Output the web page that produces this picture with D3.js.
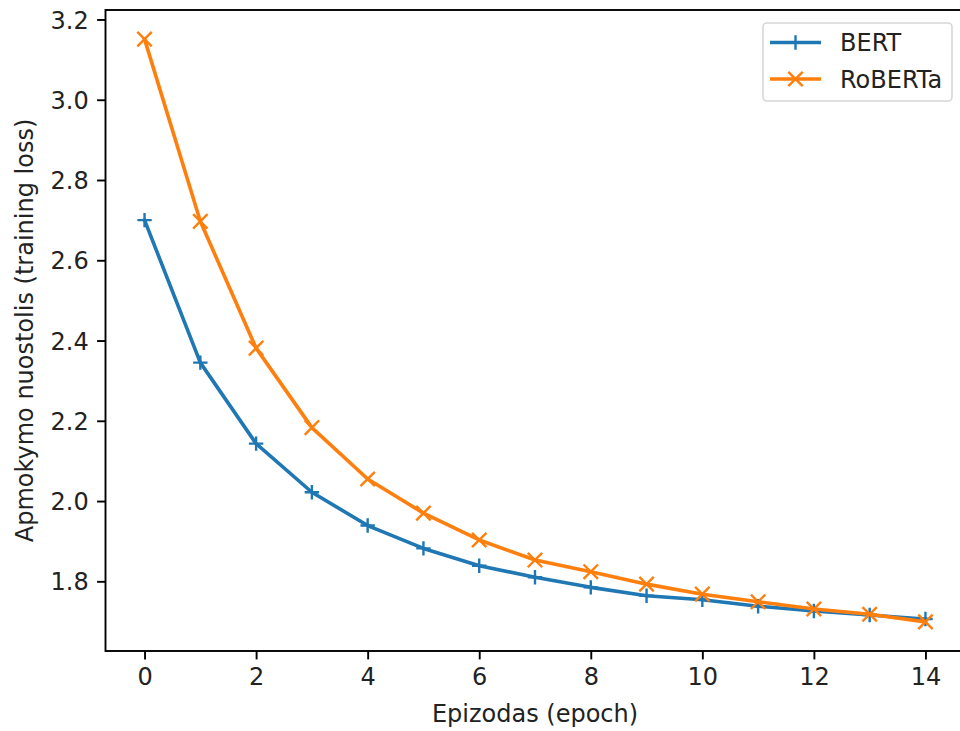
<!DOCTYPE html>
<html>
<head>
<meta charset="utf-8">
<script src="https://cdn.jsdelivr.net/npm/d3@7"></script>
<style>
  html, body { margin: 0; padding: 0; background: #fff; }
  svg { display: block; font-family: "DejaVu Sans", sans-serif; }
</style>
</head>
<body>
<svg id="chart" width="960" height="731"></svg>
<script>
// Training loss per epoch for two models
const epochs = [0, 1, 2, 3, 4, 5, 6, 7, 8, 9, 10, 11, 12, 13, 14];
const bertLoss = [2.700, 2.345, 2.143, 2.022, 1.939, 1.882, 1.839, 1.810, 1.785, 1.764, 1.754, 1.738, 1.726, 1.716, 1.706];
const robertaLoss = [3.151, 2.697, 2.381, 2.183, 2.055, 1.970, 1.903, 1.853, 1.824, 1.793, 1.768, 1.749, 1.731, 1.718, 1.699];
const seriesNames = ["BERT", "RoBERTa"];
const xTickValues = [0, 2, 4, 6, 8, 10, 12, 14];
const yTickValues = [1.8, 2.0, 2.2, 2.4, 2.6, 2.8, 3.0, 3.2];
const xLabel = "Epizodas (epoch)";
const yLabel = "Apmokymo nuostolis (training loss)";

const colors = ["#1f77b4", "#ff7f0e"];
const markers = ["plus", "cross"];
const series = [bertLoss, robertaLoss];

const plotL = 105.5, plotR = 964.5, plotT = 10, plotB = 651;
const fontSize = 24;
const tickLen = 8.4, tickPad = 8.4;

const svg = d3.select("#chart");

// scales with 5% padding around the data, like the usual plotting defaults
const xExt = d3.extent(epochs);
const xPad = (xExt[1] - xExt[0]) * 0.05;
const x = d3.scaleLinear().domain([xExt[0] - xPad, xExt[1] + xPad]).range([plotL, plotR]);

const allY = bertLoss.concat(robertaLoss);
const yExt = d3.extent(allY);
const yPad = (yExt[1] - yExt[0]) * 0.05;
const y = d3.scaleLinear().domain([yExt[0] - yPad, yExt[1] + yPad]).range([plotB, plotT]);

// axes
const xAxis = d3.axisBottom(x).tickValues(xTickValues).tickFormat(d3.format("d"))
  .tickSizeInner(tickLen).tickSizeOuter(0).tickPadding(tickPad);
const yAxis = d3.axisLeft(y).tickValues(yTickValues).tickFormat(d3.format(".1f"))
  .tickSizeInner(tickLen).tickSizeOuter(0).tickPadding(tickPad);

const gx = svg.append("g").attr("transform", `translate(0,${plotB})`).call(xAxis);
const gy = svg.append("g").attr("transform", `translate(${plotL},0)`).call(yAxis);
[gx, gy].forEach(g => {
  g.select(".domain").remove();
  g.selectAll(".tick line").attr("stroke", "#000").attr("stroke-width", 1.9);
  g.selectAll(".tick text").attr("fill", "#222").style("font-size", fontSize + "px")
    .style("font-family", "DejaVu Sans");
});
gx.selectAll(".tick text").attr("dy", null).attr("y", tickLen + tickPad)
  .attr("dominant-baseline", "hanging");
gy.selectAll(".tick text").attr("dy", "0.36em");

// series lines and markers
const line = d3.line().x((d, i) => x(epochs[i])).y(d => y(d));
const mSize = 14.4;
function drawMarker(g, type, cx, cy, color) {
  const h = mSize / 2;
  const p = type === "plus"
    ? `M${cx - h},${cy}L${cx + h},${cy}M${cx},${cy - h}L${cx},${cy + h}`
    : `M${cx - h},${cy - h}L${cx + h},${cy + h}M${cx - h},${cy + h}L${cx + h},${cy - h}`;
  g.append("path").attr("d", p).attr("stroke", color).attr("stroke-width", 2.4)
    .attr("fill", "none").attr("stroke-linecap", "butt");
}

series.forEach((vals, s) => {
  const g = svg.append("g");
  g.append("path").datum(vals).attr("d", line).attr("fill", "none")
    .attr("stroke", colors[s]).attr("stroke-width", 3.6)
    .attr("stroke-linejoin", "round").attr("stroke-linecap", "square");
  vals.forEach((v, i) => drawMarker(g, markers[s], x(epochs[i]), y(v), colors[s]));
});

// frame
svg.append("rect").attr("x", plotL).attr("y", plotT).attr("width", plotR - plotL)
  .attr("height", plotB - plotT).attr("fill", "none").attr("stroke", "#000")
  .attr("stroke-width", 1.9);

// axis labels
svg.append("text").attr("x", (plotL + plotR) / 2).attr("y", 722)
  .attr("text-anchor", "middle").attr("fill", "#222").style("font-size", fontSize + "px")
  .text(xLabel);
svg.append("text").attr("transform", `translate(33,${(plotT + plotB) / 2}) rotate(-90)`)
  .attr("text-anchor", "middle").attr("fill", "#222").style("font-size", fontSize + "px")
  .text(yLabel);

// legend
const lg = svg.append("g");
lg.append("rect").attr("x", 763).attr("y", 23).attr("width", 189).attr("height", 78)
  .attr("rx", 4).attr("fill", "#fff").attr("fill-opacity", 0.8)
  .attr("stroke", "#d6d6d6").attr("stroke-width", 1.6);
seriesNames.forEach((name, s) => {
  const ly = 42.5 + s * 36.5;
  lg.append("line").attr("x1", 770).attr("x2", 821).attr("y1", ly).attr("y2", ly)
    .attr("stroke", colors[s]).attr("stroke-width", 3.6);
  drawMarker(lg, markers[s], 795.5, ly, colors[s]);
  lg.append("text").attr("x", 840).attr("y", ly + 0.36 * fontSize)
    .attr("fill", "#222").style("font-size", fontSize + "px").text(name);
});
</script>
</body>
</html>
